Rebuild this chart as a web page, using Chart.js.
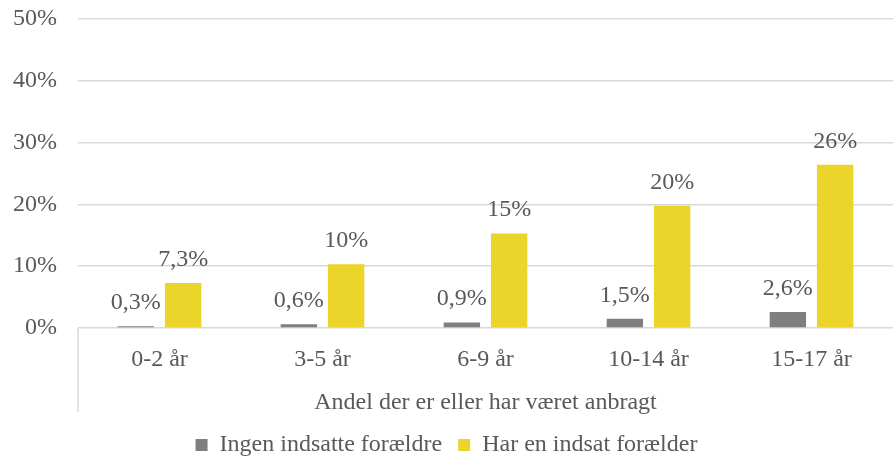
<!DOCTYPE html>
<html>
<head>
<meta charset="utf-8">
<script src="https://cdn.jsdelivr.net/npm/chart.js@4"></script>
<style>
  html, body { margin: 0; padding: 0; background: #fff; }
  #wrap { width: 893px; height: 458px; }
</style>
</head>
<body>
<div id="wrap"><canvas id="chart"></canvas></div>
<script>
// data
const categories = ['0-2 år', '3-5 år', '6-9 år', '10-14 år', '15-17 år'];
const seriesNames = ['Ingen indsatte forældre', 'Har en indsat forælder'];
const ingenValues = [0.3, 0.6, 0.9, 1.5, 2.6];
const indsatValues = [7.3, 10.3, 15.3, 19.8, 26.4];
const ingenLabels = ['0,3%', '0,6%', '0,9%', '1,5%', '2,6%'];
const indsatLabels = ['7,3%', '10%', '15%', '20%', '26%'];
const yTicks = [0, 10, 20, 30, 40, 50];
const axisTitle = 'Andel der er eller har været anbragt';

const textColor = '#595959';
const gridColor = '#d9d9d9';
const fontFamily = '"Liberation Serif", "Times New Roman", serif';

// labels above bars
const barLabels = {
    id: 'barLabels',
    afterDatasetsDraw(chart) {
        const ctx = chart.ctx;
        ctx.save();
        ctx.font = '24px ' + fontFamily;
        ctx.fillStyle = textColor;
        ctx.textAlign = 'center';
        ctx.textBaseline = 'alphabetic';
        chart.data.datasets.forEach((ds, i) => {
            const meta = chart.getDatasetMeta(i);
            meta.data.forEach((bar, j) => {
                ctx.fillText(ds.valueLabels[j], bar.x, bar.y - 17);
            });
        });
        ctx.restore();
    }
};

// left line that runs down past the category labels
const leftLine = {
    id: 'leftLine',
    afterDraw(chart) {
        const ctx = chart.ctx;
        const a = chart.chartArea;
        ctx.save();
        ctx.strokeStyle = gridColor;
        ctx.lineWidth = 1.5;
        ctx.beginPath();
        ctx.moveTo(a.left, a.bottom);
        ctx.lineTo(a.left, a.bottom + 84);
        ctx.stroke();
        ctx.restore();
    }
};

new Chart(document.getElementById('chart'), {
    type: 'bar',
    data: {
        labels: categories,
        datasets: [{
            label: seriesNames[0],
            data: ingenValues,
            valueLabels: ingenLabels,
            backgroundColor: '#7f7f7f',
            categoryPercentage: 0.58,
            barPercentage: 0.77
        }, {
            label: seriesNames[1],
            data: indsatValues,
            valueLabels: indsatLabels,
            backgroundColor: '#ecd52b',
            categoryPercentage: 0.58,
            barPercentage: 0.77
        }]
    },
    options: {
        responsive: true,
        maintainAspectRatio: false,
        animation: false,
        layout: { padding: { top: 19, left: 0, right: 0, bottom: -9 } },
        plugins: {
            legend: {
                position: 'bottom',
                labels: {
                    color: textColor,
                    font: { family: fontFamily, size: 24 },
                    boxWidth: 12,
                    boxHeight: 12,
                    padding: 16
                }
            },
            tooltip: { enabled: false }
        },
        scales: {
            x: {
                grid: { display: false },
                border: { display: false },
                ticks: {
                    color: textColor,
                    font: { family: fontFamily, size: 24 },
                    padding: 9
                },
                title: {
                    display: true,
                    text: axisTitle,
                    color: textColor,
                    font: { family: fontFamily, size: 24 },
                    padding: { top: 0, bottom: 0 }
                },
                afterFit(scale) { scale.height = 89; }
            },
            y: {
                min: 0,
                max: 50,
                afterBuildTicks(scale) {
                    scale.ticks = yTicks.map(v => ({ value: v }));
                },
                grid: { color: gridColor, lineWidth: 1.5, drawTicks: false },
                border: { display: false },
                ticks: {
                    color: textColor,
                    font: { family: fontFamily, size: 24 },
                    padding: 21,
                    callback: v => v + '%'
                },
                afterFit(scale) {
                    scale.width = 78;
                    scale.paddingTop = 0;
                    scale.paddingBottom = 0;
                }
            }
        }
    },
    plugins: [barLabels, leftLine]
});
</script>
</body>
</html>
